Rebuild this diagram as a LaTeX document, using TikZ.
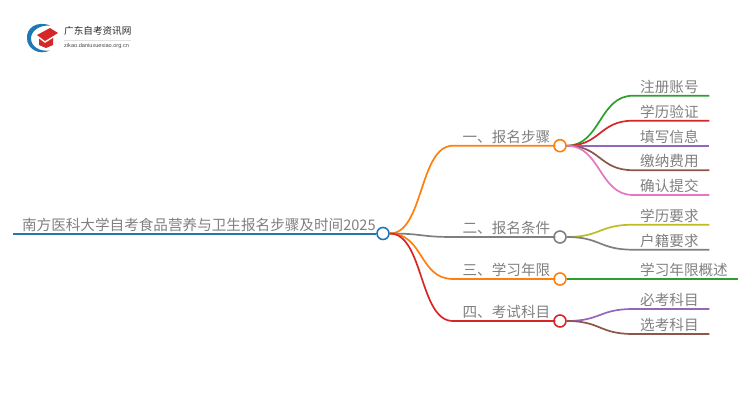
\documentclass[tikz,border=0pt]{standalone}
\usepackage{fontspec}
\setmainfont{Noto Sans CJK SC}
\newfontfamily\latinfont{Liberation Sans}
\definecolor{cblue}{HTML}{1F77B4}
\definecolor{corange}{HTML}{FF7F0E}
\definecolor{cgray}{HTML}{7F7F7F}
\definecolor{cred}{HTML}{D62728}
\definecolor{cgreen}{HTML}{2CA02C}
\definecolor{cpurple}{HTML}{9467BD}
\definecolor{cbrown}{HTML}{8C564B}
\definecolor{cpink}{HTML}{E377C2}
\definecolor{colive}{HTML}{BCBD22}
\definecolor{ctext}{HTML}{808080}
\tikzset{
label base/.style={anchor=south west, text=ctext, inner ysep=0pt, text height=12pt,
	text depth=3.2pt, font=\fontsize{14.6}{16}\selectfont},
title/.style={label base, text width=361pt, inner xsep=1.5pt, align=right, text depth=3.7pt},
topic/.style={label base, text width=92pt, inner xsep=5pt, align=right},
leaf/.style={label base, text width=62pt, inner xsep=7pt, align=left},
long leaf/.style={leaf, text width=91pt},
dot/.style={circle, draw=#1, fill=white, line width=1.6pt, minimum size=12pt, inner sep=0pt},
link/.style={line width=1.7pt, color=#1}
}
\newcommand{\branch}[3]{
	\draw[link=#1] (#2.east) .. controls +(34pt,0pt) and +(-34pt,0pt) .. (#3.south west) -- (#3.south east);
}
\begin{document}
\begin{tikzpicture}[x=1pt, y=-1pt]
	\useasboundingbox (0,0) rectangle (750,410);
	\fill[cblue] (50,25.5) .. controls (36,20) and (26,29) .. (27,38.5)
		.. controls (27,48) and (38,56) .. (50,50.5)
		.. controls (39,52) and (31,46) .. (31,38.5)
		.. controls (31,31) and (39,25) .. (50,25.5) -- cycle;
	\fill[cred] (37,35) -- (50,28) -- (58,33) -- (45,41) -- cycle;
	\fill[cred] (39,38.5) -- (45,43) -- (53,38) -- (53,45) -- (46,48) -- (39,45) -- cycle;
	\node[anchor=west, inner sep=0pt, text=black!85, font=\fontsize{9.6}{10}\selectfont] (brand) at (64,31) {广东自考资讯网};
	\node[anchor=west, inner sep=0pt, text=black!70, font=\latinfont\fontsize{5.6}{6}\selectfont] (site) at (64,46) {zikao.daniuxuexiao.org.cn};
	\draw[black!12, line width=0.5pt] (brand.west |- 0,40) -- (131,40);

	\node[dot=cblue] (root) at (383,233.5) {};
	\node[dot=corange] (step) at (560,145.7) {};
	\node[dot=cgray] (cond) at (560,237) {};
	\node[dot=corange] (years) at (560,279) {};
	\node[dot=cred] (exam) at (560,321) {};

	\node[title] (name) at (13,234) {南方医科大学自考食品营养与卫生报名步骤及时间2025};
	\node[topic] (stepname) at (453,145.7) {一、报名步骤};
	\node[topic] (condname) at (453,237) {二、报名条件};
	\node[topic] (yearsname) at (453,279) {三、学习年限};
	\node[topic] (examname) at (453,321) {四、考试科目};

	\node[leaf] (account) at (633,95.7) {注册账号};
	\node[leaf] (record) at (633,120.7) {学历验证};
	\node[leaf] (fill) at (633,145.7) {填写信息};
	\node[leaf] (pay) at (633,170.2) {缴纳费用};
	\node[leaf] (confirm) at (633,195) {确认提交};
	\node[leaf] (degree) at (633,224.7) {学历要求};
	\node[leaf] (census) at (633,249.7) {户籍要求};
	\node[long leaf] (summary) at (633,279) {学习年限概述};
	\node[leaf] (must) at (633,309) {必考科目};
	\node[leaf] (option) at (633,334) {选考科目};

	\draw[link=cblue] (name.south west) -- (root.west |- name.south west);
	\branch{corange}{root}{stepname}
	\branch{cgray}{root}{condname}
	\branch{corange}{root}{yearsname}
	\branch{cred}{root}{examname}
	\draw[link=corange] (stepname.south east) -- (step.west);
	\draw[link=cgray] (condname.south east) -- (cond.west);
	\draw[link=corange] (yearsname.south east) -- (years.west);
	\draw[link=cred] (examname.south east) -- (exam.west);
	\branch{cgreen}{step}{account}
	\branch{cred}{step}{record}
	\branch{cpurple}{step}{fill}
	\branch{cbrown}{step}{pay}
	\branch{cpink}{step}{confirm}
	\branch{colive}{cond}{degree}
	\branch{cgray}{cond}{census}
	\branch{cgreen}{years}{summary}
	\branch{cpurple}{exam}{must}
	\branch{cbrown}{exam}{option}
\end{tikzpicture}
\end{document}
